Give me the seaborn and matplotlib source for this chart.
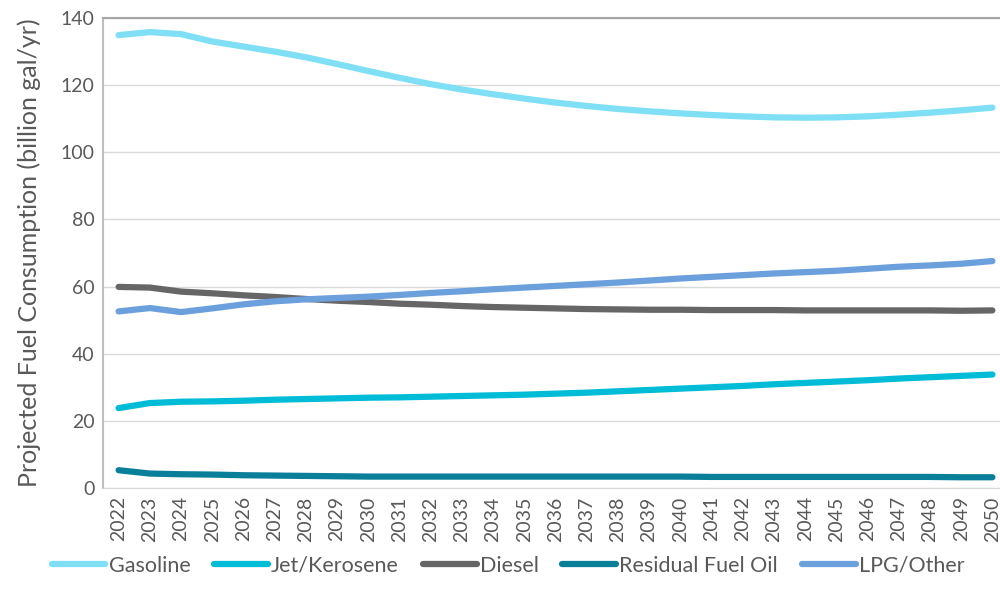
import numpy as np
import pandas as pd
import matplotlib
matplotlib.use("Agg")
import matplotlib.pyplot as plt
import seaborn as sns

years = list(range(2022, 2051))

gasoline = [134.9, 135.8, 135.2, 133.0, 131.5, 130.0, 128.3, 126.3, 124.2, 122.2,
            120.3, 118.7, 117.3, 116.0, 114.8, 113.8, 112.9, 112.2, 111.6, 111.1,
            110.7, 110.4, 110.3, 110.4, 110.7, 111.2, 111.8, 112.5, 113.3]
jet_kerosene = [23.8, 25.3, 25.7, 25.8, 26.0, 26.3, 26.5, 26.7, 26.9, 27.0,
                27.2, 27.4, 27.6, 27.8, 28.1, 28.4, 28.8, 29.2, 29.6, 30.0,
                30.4, 30.9, 31.3, 31.7, 32.1, 32.6, 33.0, 33.4, 33.8]
diesel = [59.9, 59.7, 58.5, 58.0, 57.4, 56.9, 56.3, 55.8, 55.4, 54.9,
          54.6, 54.2, 53.9, 53.7, 53.5, 53.3, 53.2, 53.1, 53.1, 53.0,
          53.0, 53.0, 52.9, 52.9, 52.9, 52.9, 52.9, 52.8, 52.9]
residual = [5.3, 4.3, 4.1, 4.0, 3.8, 3.7, 3.6, 3.5, 3.4, 3.4,
            3.4, 3.4, 3.4, 3.4, 3.4, 3.4, 3.4, 3.4, 3.4, 3.3,
            3.3, 3.3, 3.3, 3.3, 3.3, 3.3, 3.3, 3.2, 3.2]
lpg_other = [52.6, 53.6, 52.4, 53.5, 54.7, 55.6, 56.2, 56.6, 57.0, 57.5,
             58.1, 58.6, 59.2, 59.7, 60.2, 60.7, 61.2, 61.8, 62.4, 62.9,
             63.4, 63.9, 64.3, 64.7, 65.3, 65.9, 66.3, 66.8, 67.6]

series_names = ["Gasoline", "Jet/Kerosene", "Diesel", "Residual Fuel Oil", "LPG/Other"]
colors = ["#7FDFF5", "#00BCD6", "#666666", "#0A7F9A", "#6CA0DC"]

df = pd.DataFrame({
    "idx": list(range(len(years))) * 5,
    "value": gasoline + jet_kerosene + diesel + residual + lpg_other,
    "fuel": [n for n in series_names for _ in years],
})

sns.set_style("white")
plt.rcParams["font.family"] = ["Lato", "DejaVu Sans"]
TXT = "#595959"

fig = plt.figure(figsize=(10, 6.04), dpi=100)
ax = fig.add_axes([0.103, (604 - 488) / 604, 0.905, 470 / 604])

sns.lineplot(data=df, x="idx", y="value", hue="fuel", hue_order=series_names,
             palette=colors, lw=4.5, ax=ax, legend=False,
             solid_capstyle="round")

ax.set_xlim(-0.5, len(years) - 0.5)
ax.set_ylim(0, 140)
ax.set_yticks(range(0, 141, 20))
ax.yaxis.grid(True, color="#D9D9D9", lw=1)
ax.set_xticks(range(len(years)))
ax.set_xticklabels([str(y) for y in years], rotation=90)
ax.tick_params(axis="both", colors=TXT, labelsize=14, length=0, pad=6)
ax.set_xlabel("")
ax.set_ylabel("Projected Fuel Consumption (billion gal/yr)", fontsize=18,
              color=TXT, labelpad=14)

ax.spines["right"].set_visible(False)
ax.spines["top"].set_color("#A6A6A6")
ax.spines["top"].set_linewidth(1.5)
ax.spines["left"].set_color("#BFBFBF")
ax.spines["left"].set_linewidth(1.5)
ax.spines["bottom"].set_color("#D9D9D9")

handles = [plt.Line2D([0], [0], color=c, lw=4.5, solid_capstyle="round") for c in colors]
fig.legend(handles, series_names, loc="center", bbox_to_anchor=(0.508, 0.063),
           ncol=5, frameon=False, fontsize=15.5, handlelength=2.5,
           handletextpad=0.15, columnspacing=1.1, labelcolor=TXT)

fig.savefig("out.png", dpi=100, facecolor="white")
